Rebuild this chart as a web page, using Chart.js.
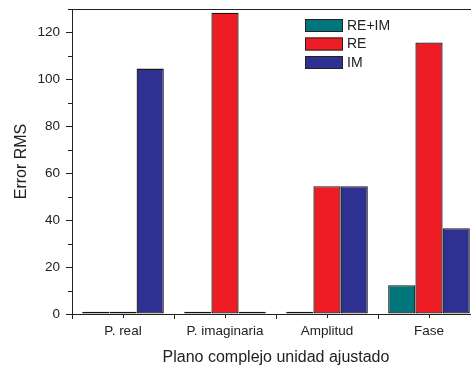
<!DOCTYPE html>
<html>
<head>
<meta charset="utf-8">
<script src="https://cdn.jsdelivr.net/npm/chart.js@4.4.0/dist/chart.umd.min.js"></script>
<style>
  html, body { margin: 0; padding: 0; background: #fff; overflow: hidden; }
  #wrap { width: 481px; height: 367px; position: relative; }
</style>
</head>
<body>
<div id="wrap"><canvas id="myChart"></canvas></div>
<script>
// data
const categories = ["P. real", "P. imaginaria", "Amplitud", "Fase"];
const seriesNames = ["RE+IM", "RE", "IM"];
const reIm = [1.0, 1.0, 1.0, 12.3];
const re = [1.0, 128.4, 54.5, 115.7];
const im = [104.6, 1.0, 54.5, 36.6];
const seriesColors = ["#00767a", "#ee1d25", "#2e3192"];
const yTicks = [0, 20, 40, 60, 80, 100, 120];

const FONT = "'Liberation Sans', Arial, sans-serif";
const INK = "#222";

// minor ticks, top frame line and the legend box
const extras = {
  id: "extras",
  afterDraw(chart) {
    const ctx = chart.ctx;
    const area = chart.chartArea;
    const x = chart.scales.x;
    const y = chart.scales.y;
    ctx.save();
    ctx.strokeStyle = INK;
    ctx.lineWidth = 1;
    // top frame
    ctx.beginPath();
    ctx.moveTo(area.left, area.top + 0.5);
    ctx.lineTo(area.right, area.top + 0.5);
    ctx.stroke();
    // y minor ticks
    for (let v = 10; v <= 130; v += 20) {
      const py = Math.round(y.getPixelForValue(v)) + 0.5;
      ctx.beginPath();
      ctx.moveTo(area.left - 4, py);
      ctx.lineTo(area.left, py);
      ctx.stroke();
    }
    // x center ticks
    categories.forEach((c, i) => {
      const px = Math.round(x.getPixelForValue(i)) + 0.5;
      ctx.beginPath();
      ctx.moveTo(px, area.bottom);
      ctx.lineTo(px, area.bottom + 4);
      ctx.stroke();
    });
    // legend
    ctx.font = "14px " + FONT;
    ctx.textBaseline = "middle";
    chart.data.datasets.forEach((ds, i) => {
      const top = 19 + i * 18.5;
      ctx.fillStyle = ds.backgroundColor;
      ctx.fillRect(305, top, 38, 13);
      ctx.strokeStyle = "#222";
      ctx.strokeRect(305.5, top + 0.5, 37, 12);
      ctx.fillStyle = INK;
      ctx.fillText(ds.label, 347, top + 7);
    });
    ctx.restore();
  }
};

const ctx = document.getElementById("myChart").getContext("2d");
const myChart = new Chart(ctx, {
  type: "bar",
  data: {
    labels: categories,
    datasets: [reIm, re, im].map((vals, i) => ({
      label: seriesNames[i],
      data: vals,
      backgroundColor: seriesColors[i],
      borderColor: "#1c1414",
      borderWidth: 1.3,
      borderSkipped: false,
      barPercentage: 1,
      categoryPercentage: 0.8
    }))
  },
  options: {
    responsive: true,
    maintainAspectRatio: false,
    animation: false,
    layout: { padding: { top: 9, right: 1, left: 0, bottom: 0 } },
    plugins: {
      legend: { display: false },
      tooltip: { enabled: false }
    },
    scales: {
      x: {
        afterFit: (s) => { s.height = 53; s.paddingLeft = 0; s.paddingRight = 0; },
        grid: { display: true, drawOnChartArea: false, offset: true, tickLength: 5, color: INK },
        border: { display: true, color: INK, width: 1 },
        ticks: { color: INK, font: { family: FONT, size: 13.5 }, padding: 4, maxRotation: 0 },
        title: {
          display: true,
          text: "Plano complejo unidad ajustado",
          color: INK,
          font: { family: FONT, size: 16 },
          padding: { top: 0, bottom: 0 }
        }
      },
      y: {
        min: 0,
        max: 130,
        afterFit: (s) => { s.width = 72; s.paddingTop = 0; s.paddingBottom = 0; },
        afterBuildTicks: (s) => { s.ticks = yTicks.map((v) => ({ value: v })); },
        grid: { display: true, drawOnChartArea: false, tickLength: 6, color: INK },
        border: { display: true, color: INK, width: 1 },
        ticks: { color: INK, font: { family: FONT, size: 13.5 }, padding: 6 },
        title: {
          display: true,
          text: "Error RMS",
          color: INK,
          font: { family: FONT, size: 16 },
          padding: { top: 12, bottom: 0 }
        }
      }
    }
  },
  plugins: [extras]
});
</script>
</body>
</html>
